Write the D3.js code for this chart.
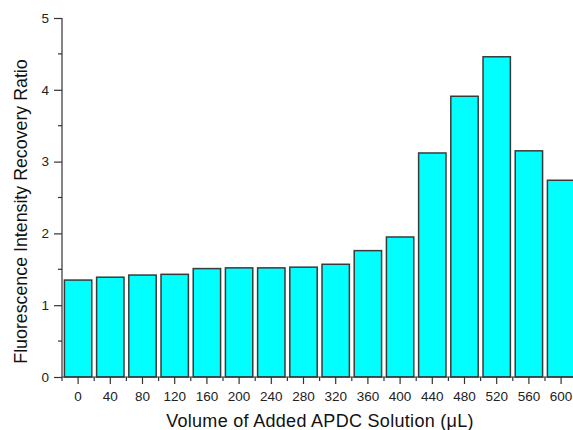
<!DOCTYPE html>
<html>
<head>
<meta charset="utf-8">
<script src="https://d3js.org/d3.v7.min.js"></script>
<style>
  html, body { margin: 0; padding: 0; background: #fff; }
  svg { display: block; }
  svg text { font-family: "Liberation Sans", Arial, sans-serif; }
</style>
</head>
<body>
<svg id="chart" width="573" height="430"></svg>
<script>
// Volume of added APDC solution (µL)
const volumes = ["0", "40", "80", "120", "160", "200", "240", "280", "320", "360", "400", "440", "480", "520", "560", "600"];
// Fluorescence intensity recovery ratio for each volume
const ratios = [1.35, 1.39, 1.42, 1.43, 1.51, 1.52, 1.52, 1.53, 1.57, 1.76, 1.95, 3.12, 3.91, 4.46, 3.15, 2.74];
const yMajorTicks = [0, 1, 2, 3, 4, 5];
const yMinorTicks = [0.5, 1.5, 2.5, 3.5, 4.5];

const svg = d3.select("#chart");
const plotLeft = 62, plotBottom = 377, plotTop = 18, step = 32.2;
const plotRight = plotLeft + step * volumes.length;

const x = d3.scaleBand()
  .domain(volumes)
  .range([plotLeft, plotRight])
  .paddingInner(0.15)
  .paddingOuter(0.075);

const y = d3.scaleLinear().domain([0, 5]).range([plotBottom, plotTop]);

const axisColor = "#333";

// bars
svg.append("g")
  .selectAll("rect")
  .data(volumes.map((v, i) => ({ v, r: ratios[i] })))
  .join("rect")
  .attr("x", d => x(d.v))
  .attr("y", d => y(d.r))
  .attr("width", x.bandwidth())
  .attr("height", d => y(0) - y(d.r))
  .attr("fill", "#00FFFF")
  .attr("stroke", "#3a3a3a")
  .attr("stroke-width", 1.5);

// y axis with major ticks and labels
const yAxis = svg.append("g")
  .attr("transform", `translate(${plotLeft},0)`)
  .call(d3.axisLeft(y).tickValues(yMajorTicks).tickFormat(d3.format("d")).tickSize(8).tickPadding(5));
yAxis.select(".domain").attr("stroke", axisColor).attr("stroke-width", 1.2).attr("d", `M0,${plotTop}V${plotBottom}`);
yAxis.selectAll(".tick line").attr("stroke", axisColor).attr("stroke-width", 1.2);
yAxis.selectAll(".tick text").attr("fill", "#222").style("font-size", "13.5px");

// y minor ticks
svg.append("g")
  .selectAll("line")
  .data(yMinorTicks)
  .join("line")
  .attr("x1", plotLeft - 4).attr("x2", plotLeft)
  .attr("y1", d => y(d)).attr("y2", d => y(d))
  .attr("stroke", axisColor).attr("stroke-width", 1.2);

// x axis with ticks at bar centres
const xAxis = svg.append("g")
  .attr("transform", `translate(0,${plotBottom})`)
  .call(d3.axisBottom(x).tickSize(7).tickPadding(7));
xAxis.select(".domain").attr("stroke", axisColor).attr("stroke-width", 1.2).attr("d", `M${plotLeft},0H${plotRight}`);
xAxis.selectAll(".tick line").attr("stroke", axisColor).attr("stroke-width", 1.2);
xAxis.selectAll(".tick text").attr("fill", "#222").style("font-size", "13.5px");

// x minor ticks between bars
svg.append("g")
  .selectAll("line")
  .data(d3.range(volumes.length + 1))
  .join("line")
  .attr("x1", i => plotLeft + i * x.step()).attr("x2", i => plotLeft + i * x.step())
  .attr("y1", plotBottom).attr("y2", plotBottom + 4)
  .attr("stroke", axisColor).attr("stroke-width", 1.2);

// axis titles
svg.append("text")
  .attr("x", 320)
  .attr("y", 427)
  .attr("text-anchor", "middle")
  .attr("fill", "#111")
  .style("font-size", "18px")
  .style("letter-spacing", "0.3px")
  .text("Volume of Added APDC Solution (\u03BCL)");

svg.append("text")
  .attr("transform", "translate(27,211.5) rotate(-90)")
  .attr("text-anchor", "middle")
  .attr("fill", "#111")
  .style("font-size", "17.8px")
  .text("Fluorescence Intensity Recovery Ratio");
</script>
</body>
</html>
